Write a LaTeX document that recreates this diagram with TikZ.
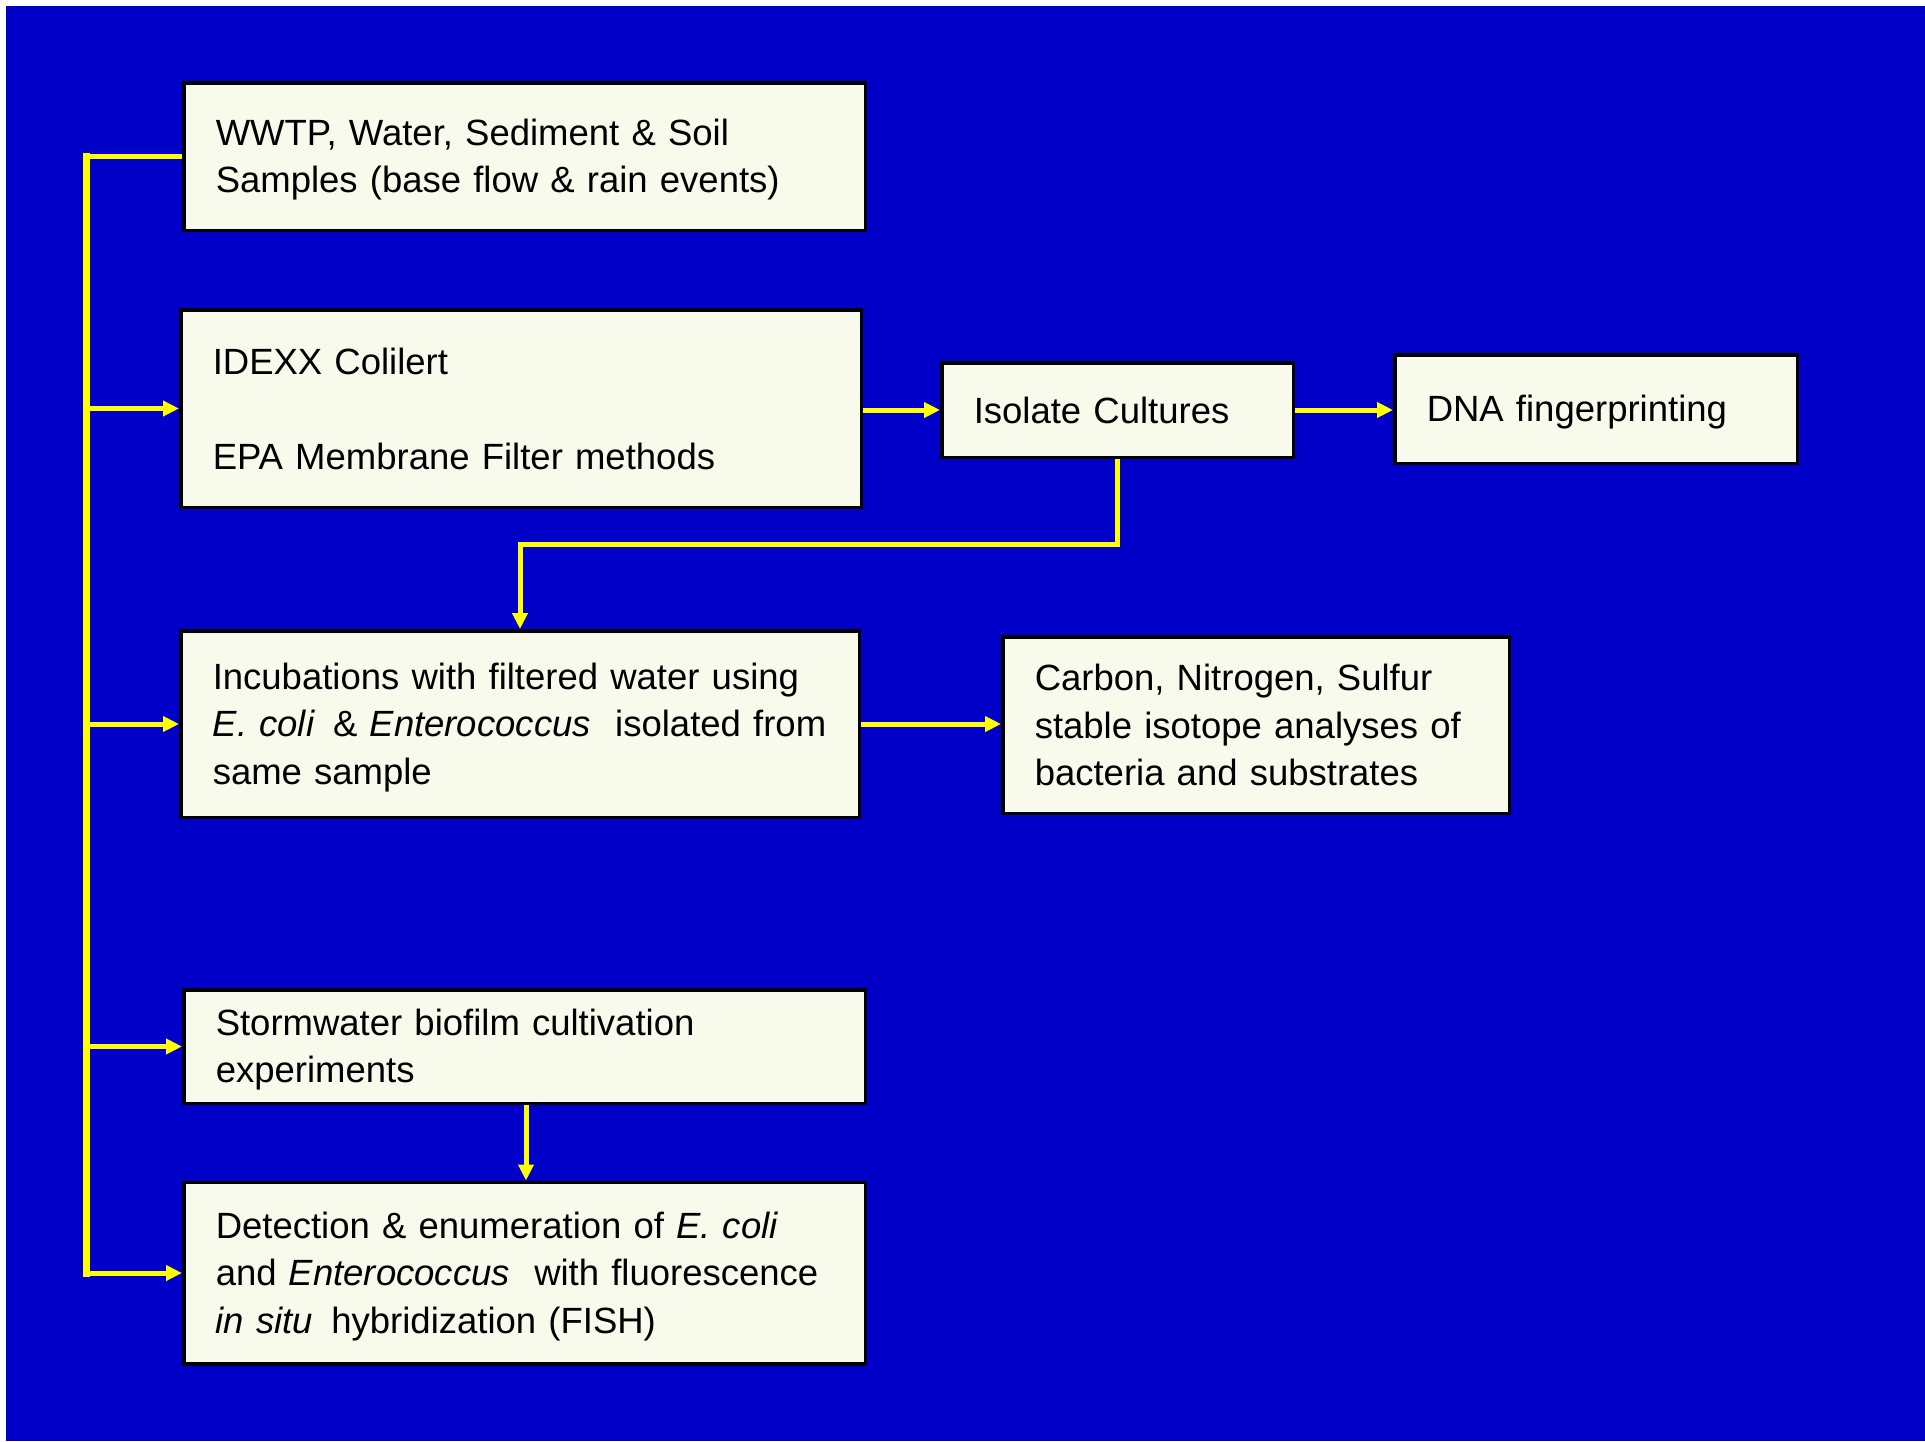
\documentclass[tikz,border=0pt]{standalone}
\usepackage{fontspec}
\setmainfont{Liberation Sans}
\usetikzlibrary{arrows.meta}
\definecolor{bgblue}{RGB}{0,0,200}
\definecolor{boxfill}{RGB}{248,250,235}
\definecolor{yel}{RGB}{255,255,0}
\tikzset{
  box/.style n args={3}{draw=black, line width=3.5pt, fill=boxfill,
    inner xsep=32pt, inner ysep=0pt, align=left,
    font=\fontsize{36.5}{47.5}\selectfont,
    execute at begin node={\rule{0pt}{33pt}},
    execute at end node={\rule[-7pt]{0pt}{7pt}},
    minimum width=#1pt, minimum height=#2pt, text width=#3pt},
  conn/.style={draw=yel, line width=5pt},
  arr/.style={conn, -{Triangle[length=16pt,width=15pt]}},
  trunkline/.style={draw=yel, line width=7pt, line cap=rect}
}
\begin{document}
\begin{tikzpicture}[x=1pt,y=-1pt]
\useasboundingbox (0,0) rectangle (1925,1441);
\fill[white] (0,0) rectangle (1925,1441);
\fill[bgblue] (6,6) rectangle (1925,1441);

\node[box={681.5}{147.5}{617.5}] (b1) at (524.5,156.5)
  {WWTP, Water, Sediment \& Soil\\Samples (base flow \& rain events)};
\node[box={680.5}{197.5}{616.5}] (b2) at (521,408.5)
  {IDEXX Colilert\\[47.5pt]EPA Membrane Filter methods};
\node[box={351.5}{94.5}{287.5}] (iso) at (1117.5,410)
  {Isolate Cultures};
\node[box={402.5}{108.5}{338.5}] (dna) at (1596,409)
  {DNA fingerprinting};
\node[box={678.5}{186.5}{614.5}] (inc) at (520,724)
  {Incubations with filtered water using\\\mbox{\textit{E. coli}\, \& \textit{Enterococcus}\,\, isolated from}\\same sample};
\node[box={506.5}{176.5}{442.5}] (carb) at (1256,725)
  {Carbon, Nitrogen, Sulfur\\stable isotope analyses of\\bacteria and substrates};
\node[box={681.5}{113.5}{617.5}] (storm) at (524.5,1046.5)
  {Stormwater biofilm cultivation\\experiments};
\node[box={681.5}{181.5}{617.5}] (det) at (524.5,1273)
  {Detection \& enumeration of \textit{E. coli}\\\mbox{and \textit{Enterococcus}\,\, with fluorescence}\\\textit{in situ}\, hybridization (FISH)};

\coordinate (trunk) at (86,0);
\draw[trunkline] (trunk |- b1.west) -- (trunk |- det.west);
\draw[conn] (b1.west) -- (trunk |- b1.west);
\draw[arr] (trunk |- b2.west) -- (b2.west);
\draw[arr] (trunk |- inc.west) -- (inc.west);
\draw[arr] (trunk |- storm.west) -- (storm.west);
\draw[arr] (trunk |- det.west) -- (det.west);

\draw[arr] (b2.east |- iso.west) -- (iso.west);
\draw[arr] (iso.east) -- (iso.east -| dna.west);
\draw[arr] (iso.south) -- ++(0,85) -| (inc.north);
\draw[arr] (inc.east) -- (inc.east -| carb.west);
\draw[arr] (storm.south -| 526,0) -- (det.north -| 526,0);
\end{tikzpicture}
\end{document}
